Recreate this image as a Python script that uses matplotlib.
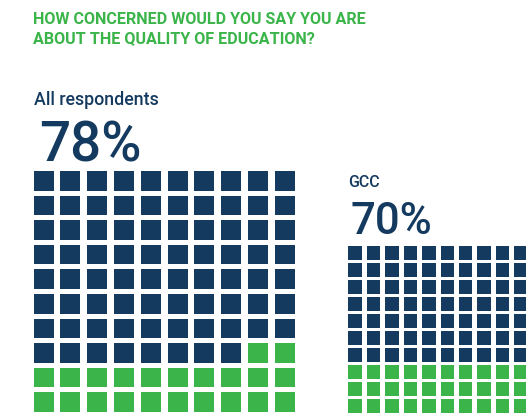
"""
Waffle charts: share of respondents concerned about the quality of education.
"""

from matplotlib import pyplot as plt
from matplotlib.patches import Rectangle

groups = ['All respondents', 'GCC']
concerned_pct = [78, 70]
title_lines = ['HOW CONCERNED WOULD YOU SAY YOU ARE', 'ABOUT THE QUALITY OF EDUCATION?']

navy = '#153a5f'
green = '#3bb54a'
font = ['Roboto', 'DejaVu Sans']

# grid geometry for each group: left, top, x pitch, y pitch, cell w, cell h
grids = [
    dict(x0=33.5, y0=172.0, dx=26.8, dy=24.6, w=20.0, h=19.6),
    dict(x0=348.3, y0=247.3, dx=18.45, dy=17.0, w=13.4, h=13.4),
]
# label positions (baselines) for group name and percentage
labels = [
    dict(x=33.5, name_y=105.5, name_size=12.8, pct_x=39, pct_y=161.7, pct_size=39.5),
    dict(x=348.0, name_y=187.3, name_size=11.5, pct_x=351, pct_y=234.0, pct_size=31.5),
]

fig = plt.figure(figsize=(5.26, 4.14), dpi=100)
ax = fig.add_axes([0, 0, 1, 1])
ax.set_xlim(0, 526)
ax.set_ylim(414, 0)
ax.axis('off')

ax.text(33, 24, title_lines[0], color=green, fontsize=11.6, fontweight='bold',
        family=font, va='baseline')
ax.text(33, 43.5, title_lines[1], color=green, fontsize=11.6, fontweight='bold',
        family=font, va='baseline')

for name, pct, g, lab in zip(groups, concerned_pct, grids, labels):
    ax.text(lab['x'], lab['name_y'], name, color=navy, fontsize=lab['name_size'],
            fontweight='medium', family=font, va='baseline')
    ax.text(lab['pct_x'], lab['pct_y'], '%d%%' % pct, color=navy,
            fontsize=lab['pct_size'], fontweight='medium', family=font, va='baseline')
    for k in range(100):
        row, col = divmod(k, 10)
        color = navy if k < pct else green
        ax.add_patch(Rectangle((g['x0'] + col * g['dx'], g['y0'] + row * g['dy']),
                               g['w'], g['h'], facecolor=color, edgecolor='none'))

fig.savefig('out.png', dpi=100)
